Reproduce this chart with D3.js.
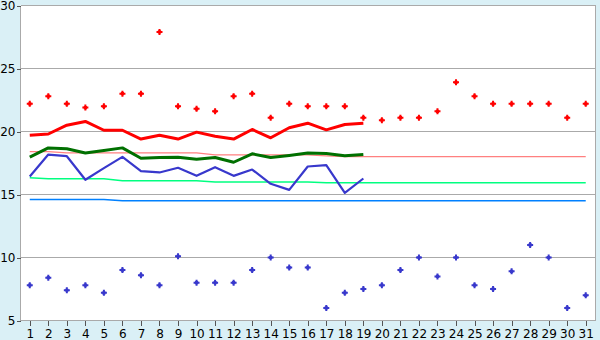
<!DOCTYPE html>
<html>
<head>
<meta charset="utf-8">
<script src="https://cdn.jsdelivr.net/npm/d3@7/dist/d3.min.js"></script>
<style>
  html, body { margin: 0; padding: 0; background: #daf0f6; }
  svg { display: block; }
  text { font-family: "DejaVu Sans", Verdana, sans-serif; font-size: 12px; fill: #000; }
</style>
</head>
<body>
<script>
const days = [1,2,3,4,5,6,7,8,9,10,11,12,13,14,15,16,17,18,19,20,21,22,23,24,25,26,27,28,29,30,31];
const yTicks = [5,10,15,20,25,30];

const dailyMax = [22.2,22.8,22.2,21.9,22.0,23.0,23.0,27.9,22.0,21.8,21.6,22.8,23.0,21.1,22.2,22.0,22.0,22.0,21.1,20.9,21.1,21.1,21.6,23.9,22.8,22.2,22.2,22.2,22.2,21.1,22.2];
const dailyMin = [7.8,8.4,7.4,7.8,7.2,9.0,8.6,7.8,10.1,8.0,8.0,8.0,9.0,10.0,9.2,9.2,6.0,7.2,7.5,7.8,9.0,10.0,8.5,10.0,7.8,7.5,8.9,11.0,10.0,6.0,7.0];

const avgMax  = [19.7,19.8,20.5,20.8,20.1,20.1,19.4,19.7,19.4,19.95,19.63,19.4,20.16,19.5,20.3,20.66,20.13,20.56,20.66];
const avgMean = [17.96,18.7,18.63,18.3,18.49,18.7,17.88,17.93,17.96,17.8,17.94,17.56,18.23,17.93,18.1,18.3,18.25,18.07,18.17];
const avgMin  = [16.43,18.17,18.04,16.17,17.09,17.99,16.85,16.75,17.12,16.48,17.17,16.48,16.98,15.85,15.37,17.22,17.33,15.13,16.27];

const normMax  = [18.4,18.4,18.3,18.3,18.3,18.3,18.3,18.3,18.3,18.3,18.15,18.15,18.15,18.15,18.15,18.15,18.07,18.0,18.0,18.0,18.0,18.0,18.0,18.0,18.0,18.0,18.0,18.0,18.0,18.0,18.0];
const normMean = [16.33,16.25,16.25,16.25,16.25,16.09,16.09,16.09,16.09,16.09,16.0,16.0,16.0,16.0,16.0,16.0,15.93,15.93,15.93,15.93,15.93,15.93,15.93,15.93,15.93,15.93,15.93,15.93,15.93,15.93,15.93];
const normMin  = [14.6,14.6,14.6,14.6,14.6,14.5,14.5,14.5,14.5,14.5,14.5,14.5,14.5,14.5,14.5,14.5,14.5,14.5,14.5,14.5,14.5,14.5,14.5,14.5,14.5,14.5,14.5,14.5,14.5,14.5,14.5];

const W = 600, H = 340;
const pL = 20, pR = 595, pT = 5, pB = 320;

const svg = d3.select("body").append("svg").attr("width", W).attr("height", H);

const x = d3.scalePoint().domain(days).range([pL, pR - 0.5]).padding(0.5);
const y = d3.scaleLinear().domain([5, 30]).range([pB, pT]);

const g = svg.append("g").attr("transform", "translate(0.5,0.5)");

// plot background
g.append("rect").attr("x", pL).attr("y", pT).attr("width", pR - pL).attr("height", pB - pT).attr("fill", "#fff");

// gridlines
g.append("g").selectAll("line").data(yTicks.filter(v => v > 5)).join("line")
  .attr("x1", pL).attr("x2", pR)
  .attr("y1", d => Math.round(y(d))).attr("y2", d => Math.round(y(d)))
  .attr("stroke", "#aaaaaa").attr("stroke-width", 1).attr("shape-rendering", "crispEdges");
// right border
g.append("line").attr("x1", pR).attr("x2", pR).attr("y1", pT).attr("y2", pB)
  .attr("stroke", "#aaaaaa").attr("shape-rendering", "crispEdges");

const lineGen = d3.line().x((d, i) => x(days[i])).y(d => y(d));

function drawLine(data, color, width) {
  g.append("path").datum(data).attr("d", lineGen).attr("fill", "none")
    .attr("stroke", color).attr("stroke-width", width).attr("stroke-linejoin", "round");
}
drawLine(normMax, "#ff8080", 1.2);
drawLine(normMean, "#00ff80", 1.5);
drawLine(normMin, "#0080ff", 1.5);
drawLine(avgMin, "#3838cc", 2.2);
drawLine(avgMean, "#007000", 3);
drawLine(avgMax, "#ff0000", 3);

// bold plus marker (plus with filled centre)
const markerPath = "M-1,-3L1,-3L1,-1.6L1.6,-1.6L1.6,-1L3,-1L3,1L1.6,1L1.6,1.6L1,1.6L1,3L-1,3L-1,1.6L-1.6,1.6L-1.6,1L-3,1L-3,-1L-1.6,-1L-1.6,-1.6L-1,-1.6Z";
g.append("g").selectAll("path").data(dailyMax).join("path")
  .attr("d", markerPath).attr("fill", "#ff0000")
  .attr("transform", (d, i) => `translate(${x(days[i])},${y(d)})`);
g.append("g").selectAll("path").data(dailyMin).join("path")
  .attr("d", markerPath).attr("fill", "#3838cc")
  .attr("transform", (d, i) => `translate(${x(days[i])},${y(d)})`);

// axes
const ax = g.append("g").attr("transform", `translate(0,${pB})`)
  .call(d3.axisBottom(x).tickSize(5).tickPadding(4).tickSizeOuter(0));
const ay = g.append("g").attr("transform", `translate(${pL},0)`)
  .call(d3.axisLeft(y).tickValues(yTicks).tickSize(4).tickPadding(1).tickSizeOuter(0));
[ax, ay].forEach(a => {
  a.select(".domain").attr("stroke", "#aaaaaa").attr("shape-rendering", "crispEdges");
  a.selectAll(".tick line").attr("stroke", "#555").attr("shape-rendering", "crispEdges");
  a.selectAll("text").attr("font-family", "'DejaVu Sans', Verdana, sans-serif").attr("font-size", 12).attr("fill", "#000");
});
ax.select(".domain").attr("d", `M${pL},0H${pR}`);
ay.select(".domain").attr("d", `M0,${pT}V${pB}`);
</script>
</body>
</html>
